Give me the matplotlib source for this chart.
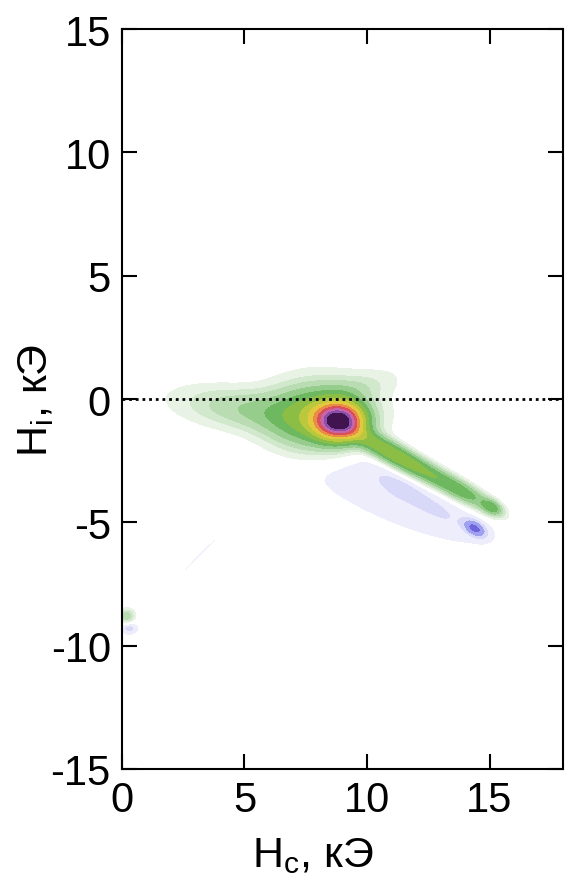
import numpy as np
import matplotlib
matplotlib.use("Agg")
import matplotlib.pyplot as plt
from matplotlib.colors import ListedColormap, BoundaryNorm

plt.rcParams['font.family'] = ['Liberation Sans', 'DejaVu Sans']
plt.rcParams['mathtext.fontset'] = 'custom'
plt.rcParams['mathtext.rm'] = 'Liberation Sans'
plt.rcParams['mathtext.it'] = 'Liberation Sans'
plt.rcParams['axes.unicode_minus'] = False

# --- composantes de la distribution FORC ---
# centre Hc, centre Hu, largeur le long, largeur en travers, angle (deg), amplitude
comp_hc = [8.86, 8.0, 5.2, 9.5, 11.2, 13.9, 15.1, 10.6, 11.4, 13.0, 14.4, 0.2, 0.3, 3.2]
comp_hu = [-0.89, -0.75, -0.45, 0.4, -2.3, -3.75, -4.4, -3.3, -3.6, -4.6, -5.25, -8.8, -9.3, -6.3]
comp_sa = [0.6, 1.3, 1.8, 1.2, 1.6, 1.0, 0.3, 4.0, 0.8, 0.9, 0.3, 0.2, 0.25, 1.7]
comp_sb = [0.45, 0.85, 0.55, 0.4, 0.28, 0.25, 0.18, 1.2, 0.35, 0.35, 0.18, 0.18, 0.18, 0.08]
comp_ang = [0, 0, -8, 15, -29, -29, -30, -26, -28, -28, -30, 0, 0, 45]
comp_amp = [0.8, 0.22, 0.08, 0.03, 0.24, 0.13, 0.12, -0.024, -0.015, -0.014, -0.15, 0.07, -0.04, -0.015]

levels = [-2.0, -0.12, -0.06, -0.03, -0.012, 0.012, 0.03, 0.05, 0.08, 0.12, 0.17,
          0.24, 0.32, 0.42, 0.52, 0.62, 0.72, 0.82, 3.0]
band_colors = ['#6e64dc', '#a0a0f0', '#d8d8f8', '#ededfc', '#ffffff', '#e8f3e6',
               '#d2e8cd', '#b9dcb2', '#96cd8c', '#6eb95f', '#8cbe46', '#b9c83c',
               '#e1c83c', '#eb8c46', '#d7505a', '#c864aa', '#8c50aa', '#411450']

xticks = [0, 5, 10, 15]
yticks = [-15, -10, -5, 0, 5, 10, 15]

hc = np.linspace(0, 18, 500)
hu = np.linspace(-15, 15, 800)
HC, HU = np.meshgrid(hc, hu)
Z = np.zeros_like(HC)
for x0, y0, sa, sb, ang, amp in zip(comp_hc, comp_hu, comp_sa, comp_sb, comp_ang, comp_amp):
    t = np.deg2rad(ang)
    dx, dy = HC - x0, HU - y0
    u = dx * np.cos(t) + dy * np.sin(t)
    v = -dx * np.sin(t) + dy * np.cos(t)
    Z += amp * np.exp(-0.5 * ((u / sa) ** 2 + (v / sb) ** 2))

fig = plt.figure(figsize=(5.67, 8.87), dpi=100)
ax = fig.add_axes([0.215, 0.132, 0.778, 0.834])

cmap = ListedColormap(band_colors)
norm = BoundaryNorm(levels, cmap.N)
ax.contourf(HC, HU, Z, levels=levels, cmap=cmap, norm=norm)
ax.axhline(0, color='black', linestyle=(0, (1.0, 1.4)), linewidth=2.0)

ax.set_xlim(0, 18)
ax.set_ylim(-15, 15)
ax.set_xticks(xticks)
ax.set_yticks(yticks)
ax.tick_params(direction='in', length=11, width=1.5, top=True, right=True,
               labelsize=30, pad=8)
for s in ax.spines.values():
    s.set_linewidth(1.5)

ax.set_xlabel(r'H$_\mathrm{c}$, кЭ', fontsize=31)
ax.set_ylabel(r'H$_\mathrm{i}$, кЭ', fontsize=31)
ax.xaxis.set_label_coords(0.432, -0.09)
ax.yaxis.set_label_coords(-0.15, 0.5)

fig.savefig('out.png', dpi=100)
